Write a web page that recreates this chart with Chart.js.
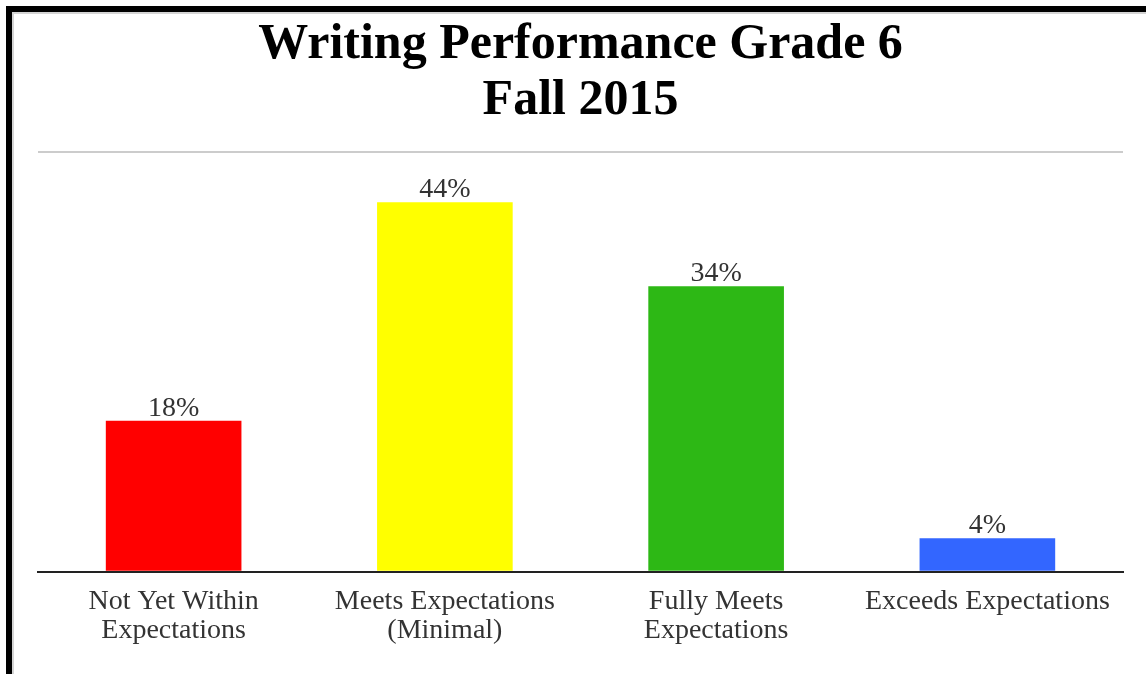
<!DOCTYPE html>
<html>
<head>
<meta charset="utf-8">
<script src="https://cdn.jsdelivr.net/npm/chart.js@4/dist/chart.umd.min.js"></script>
<style>
  html, body { margin: 0; padding: 0; background: #fff; overflow: hidden; }
  #frame {
    position: absolute; left: 6px; top: 6px; width: 2000px; height: 2000px;
    border-left: 6px solid #000; border-top: 6px solid #000;
    box-shadow: inset 2px 2px 0 #d4d4d4;
  }
  #wrap { position: absolute; left: 0; top: 0; width: 1146px; height: 674px; }
</style>
</head>
<body>
<div id="frame"></div>
<div id="wrap"><canvas id="chart" width="1146" height="674"></canvas></div>
<script>
const categories = [
  ["Not Yet Within", "Expectations"],
  ["Meets Expectations", "(Minimal)"],
  ["Fully Meets", "Expectations"],
  "Exceeds Expectations"
];
const percents = [18, 44, 34, 4];
const barColors = ["#ff0000", "#ffff00", "#2db815", "#3366ff"];
const titleLines = ["Writing Performance Grade 6", "Fall 2015"];

// value labels above each bar
const barLabels = {
  id: "barLabels",
  afterDatasetsDraw(chart) {
    const ctx = chart.ctx;
    const meta = chart.getDatasetMeta(0);
    ctx.save();
    ctx.font = "28px 'Liberation Serif'";
    ctx.fillStyle = "#333";
    ctx.textAlign = "center";
    ctx.textBaseline = "alphabetic";
    meta.data.forEach((bar, i) => {
      ctx.fillText(percents[i] + "%", bar.x, bar.y - 5);
    });
    ctx.restore();
  }
};

const ctx = document.getElementById("chart").getContext("2d");
new Chart(ctx, {
  type: "bar",
  data: {
    labels: categories,
    datasets: [{
      data: percents,
      backgroundColor: barColors,
      borderWidth: 0,
      categoryPercentage: 1,
      barPercentage: 0.5
    }]
  },
  options: {
    responsive: false,
    animation: false,
    layout: { padding: { left: 38, right: 23, top: 0, bottom: 14 } },
    plugins: {
      legend: { display: false },
      tooltip: { enabled: false },
      title: {
        display: true,
        text: titleLines,
        color: "#000",
        font: { family: "'Liberation Serif'", size: 50, weight: "bold", lineHeight: 1.12 },
        padding: { top: 17, bottom: 23 }
      }
    },
    scales: {
      x: {
        grid: { display: false, drawTicks: false },
        border: { display: true, color: "#222", width: 2 },
        ticks: {
          color: "#333",
          padding: 15,
          maxRotation: 0,
          font: { family: "'Liberation Serif'", size: 28, lineHeight: 1.04 }
        }
      },
      y: {
        min: 0,
        max: 50,
        ticks: { display: false, stepSize: 50 },
        border: { display: false },
        grid: {
          drawTicks: false,
          lineWidth: 2,
          color: c => (c.tick && c.tick.value === 0 ? "rgba(0,0,0,0)" : "#cccccc")
        }
      }
    }
  },
  plugins: [barLabels]
});
</script>
</body>
</html>
